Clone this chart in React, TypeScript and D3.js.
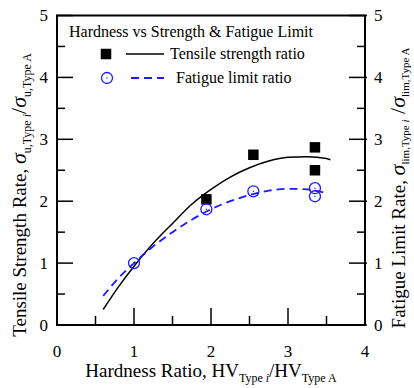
import React from "react";
import * as d3 from "d3";

const xTicks = [0, 1, 2, 3, 4];
const yTicks = [0, 1, 2, 3, 4, 5];
const minorX = [0.5, 1.5, 2.5, 3.5];
const minorY = [0.5, 1.5, 2.5, 3.5, 4.5];

// measured points
const tensileX = [1.94, 2.55, 3.35, 3.35];
const tensileY = [2.03, 2.75, 2.87, 2.5];
const fatigueX = [1.0, 1.94, 2.55, 3.35, 3.35];
const fatigueY = [1.0, 1.87, 2.16, 2.21, 2.08];

// fitted curves
const tensileCurveX = [0.6, 0.8, 1.0, 1.25, 1.5, 1.75, 2.0, 2.25, 2.5, 2.75, 3.0, 3.25, 3.5, 3.55];
const tensileCurveY = [0.25, 0.62, 0.95, 1.32, 1.64, 1.95, 2.19, 2.39, 2.54, 2.65, 2.71, 2.72, 2.69, 2.67];
const fatigueCurveX = [0.6, 0.8, 1.0, 1.25, 1.5, 1.75, 2.0, 2.25, 2.5, 2.75, 3.0, 3.25, 3.47];
const fatigueCurveY = [0.47, 0.76, 1.0, 1.27, 1.5, 1.7, 1.87, 2.0, 2.1, 2.17, 2.2, 2.19, 2.14];

const W = 414;
const H = 388;
const L = 57, R = 365, T = 15.5, B = 325;
const FONT = "'Liberation Serif', 'Times New Roman', serif";
const BLUE = "#1a1aff";

export default function App() {
  const x = d3.scaleLinear().domain([0, 4]).range([L, R]);
  const y = d3.scaleLinear().domain([0, 5]).range([B, T]);
  const line = d3.line<[number, number]>().x(d => x(d[0])).y(d => y(d[1])).curve(d3.curveMonotoneX);
  const tPts = tensileCurveX.map((v, i) => [v, tensileCurveY[i]] as [number, number]);
  const fPts = fatigueCurveX.map((v, i) => [v, fatigueCurveY[i]] as [number, number]);
  const sq = 10.5;

  return (
    <svg width={W} height={H} style={{ position: "absolute", left: 0, top: 0, background: "#fff" }} fontFamily={FONT}>
      {/* curves */}
      <path d={line(tPts) || ""} fill="none" stroke="#000" strokeWidth={1.5} />
      <path d={line(fPts) || ""} fill="none" stroke={BLUE} strokeWidth={1.8} strokeDasharray="8,5" />
      {/* markers */}
      {tensileX.map((v, i) => (
        <rect key={"t" + i} x={x(v) - sq / 2} y={y(tensileY[i]) - sq / 2} width={sq} height={sq} fill="#000" />
      ))}
      {fatigueX.map((v, i) => (
        <g key={"f" + i}>
          <circle cx={x(v)} cy={y(fatigueY[i])} r={5.5} fill="none" stroke={BLUE} strokeWidth={1.3} />
          <circle cx={x(v)} cy={y(fatigueY[i])} r={0.7} fill={BLUE} />
        </g>
      ))}
      {/* frame */}
      <rect x={L} y={T} width={R - L} height={B - T} fill="none" stroke="#000" strokeWidth={2} />
      {/* ticks */}
      {yTicks.map(t => (
        <g key={"yt" + t}>
          <line x1={L} x2={L + 16} y1={y(t)} y2={y(t)} stroke="#000" strokeWidth={1.5} />
          <line x1={R + 2} x2={R - 16} y1={y(t)} y2={y(t)} stroke="#000" strokeWidth={1.5} />
          <text x={L - 9} y={y(t)} dy="0.35em" textAnchor="end" fontSize={17}>{t}</text>
          <text x={R + 9} y={y(t)} dy="0.35em" textAnchor="start" fontSize={17}>{t}</text>
        </g>
      ))}
      {minorY.map(t => (
        <g key={"ym" + t}>
          <line x1={L} x2={L + 8} y1={y(t)} y2={y(t)} stroke="#000" strokeWidth={1.5} />
          <line x1={R + 1} x2={R - 8} y1={y(t)} y2={y(t)} stroke="#000" strokeWidth={1.5} />
        </g>
      ))}
      {xTicks.map(t => (
        <g key={"xt" + t}>
          <line x1={x(t)} x2={x(t)} y1={B} y2={B - 17} stroke="#000" strokeWidth={1.5} />
          <text x={x(t)} y={B + 32} textAnchor="middle" fontSize={17}>{t}</text>
        </g>
      ))}
      {minorX.map(t => (
        <line key={"xm" + t} x1={x(t)} x2={x(t)} y1={B} y2={B - 9} stroke="#000" strokeWidth={1.5} />
      ))}
      {/* legend */}
      <text x={69} y={37} fontSize={16}>Hardness vs Strength &amp; Fatigue Limit</text>
      <rect x={106 - sq / 2} y={54 - sq / 2} width={sq} height={sq} fill="#000" />
      <line x1={126} x2={164} y1={54} y2={54} stroke="#000" strokeWidth={1.5} />
      <text x={170} y={59} fontSize={16}>Tensile strength ratio</text>
      <circle cx={107} cy={78} r={5.5} fill="none" stroke={BLUE} strokeWidth={1.3} />
      <circle cx={107} cy={78} r={0.7} fill={BLUE} />
      <line x1={131} x2={164} y1={78} y2={78} stroke={BLUE} strokeWidth={1.8} strokeDasharray="8,5" />
      <text x={176} y={83} fontSize={16}>Fatigue limit ratio</text>
      {/* x label */}
      <text x={211} y={377} textAnchor="middle" fontSize={19}>
        Hardness Ratio, HV
        <tspan fontSize={12} dy={5}>Type <tspan fontStyle="italic">i</tspan></tspan>
        <tspan dy={-5}>/HV</tspan>
        <tspan fontSize={12} dy={5}>Type A</tspan>
      </text>
      {/* left y label */}
      <text transform="translate(26,195) rotate(-90)" textAnchor="middle" fontSize={19}>
        Tensile Strength Rate,{" "}
        <tspan fontStyle="italic" fontSize={22}>σ</tspan>
        <tspan fontSize={12} dy={5}>u,Type <tspan fontStyle="italic">i</tspan></tspan>
        <tspan dy={-5} fontSize={22}>/</tspan>
        <tspan fontStyle="italic" fontSize={22}>σ</tspan>
        <tspan fontSize={12} dy={5}>u,Type A</tspan>
      </text>
      {/* right y label */}
      <text transform="translate(405,188) rotate(-90)" textAnchor="middle" fontSize={19}>
        Fatigue Limit Rate,{" "}
        <tspan fontStyle="italic" fontSize={22}>σ</tspan>
        <tspan fontSize={11} dy={3.5}>lim,Type <tspan fontStyle="italic">i</tspan></tspan>
        <tspan dy={-3.5} fontSize={22}> /</tspan>
        <tspan fontStyle="italic" fontSize={22}>σ</tspan>
        <tspan fontSize={11} dy={3.5}>lim,Type A</tspan>
      </text>
    </svg>
  );
}
